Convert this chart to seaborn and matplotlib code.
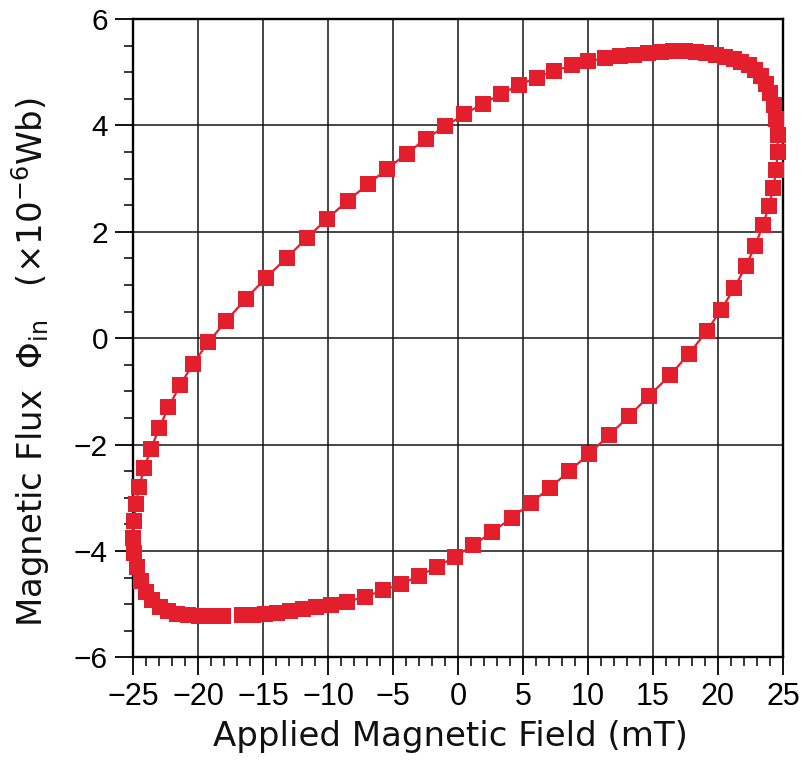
import matplotlib
matplotlib.use("Agg")
import matplotlib.pyplot as plt
from matplotlib.ticker import MultipleLocator
import numpy as np
import pandas as pd
import seaborn as sns

# Rising-field branch (lower half of the loop), mT and x1e-6 Wb
field_rising = [-16.6, -15.75, -14.85, -13.9, -12.95, -11.95, -10.9, -9.8, -8.56, -7.15,
                -5.75, -4.38, -3.0, -1.62, -0.23, 1.18, 2.65, 4.13, 5.6, 7.08,
                8.57, 10.1, 11.64, 13.18, 14.72, 16.3, 17.78, 19.13, 20.2, 21.25,
                22.13, 22.85, 23.44, 23.92, 24.25, 24.47, 24.58]
flux_rising = [-5.21, -5.20, -5.19, -5.16, -5.13, -5.10, -5.06, -5.01, -4.96, -4.86,
               -4.74, -4.62, -4.47, -4.30, -4.11, -3.89, -3.64, -3.38, -3.10, -2.81,
               -2.50, -2.17, -1.82, -1.46, -1.08, -0.70, -0.29, 0.13, 0.52, 0.94,
               1.35, 1.73, 2.12, 2.48, 2.82, 3.16, 3.50]

# Falling-field branch (upper half of the loop)
field_falling = [24.58, 24.48, 24.3, 24.03, 23.7, 23.3, 22.85, 22.35, 21.8, 21.2,
                 20.55, 19.85, 19.1, 18.3, 17.45, 16.55, 15.6, 14.6, 13.55, 12.45,
                 11.31, 10.02, 8.75, 7.38, 6.05, 4.72, 3.31, 1.95, 0.49, -1.0,
                 -2.46, -3.95, -5.45, -6.95, -8.5, -10.08, -11.64, -13.18, -14.75, -16.32,
                 -17.85, -19.22, -20.38, -21.38, -22.28, -22.98, -23.62, -24.13, -24.52, -24.78,
                 -24.93, -24.97, -24.9, -24.72, -24.42, -24.02, -23.52, -22.95, -22.3, -21.58,
                 -20.8, -19.95, -19.05, -18.1]
flux_falling = [3.82, 4.12, 4.38, 4.60, 4.78, 4.93, 5.04, 5.13, 5.20, 5.25,
                5.29, 5.33, 5.36, 5.38, 5.39, 5.39, 5.38, 5.36, 5.33, 5.30,
                5.26, 5.21, 5.13, 5.02, 4.90, 4.76, 4.59, 4.41, 4.21, 3.98,
                3.75, 3.47, 3.18, 2.89, 2.58, 2.24, 1.88, 1.51, 1.14, 0.74,
                0.32, -0.08, -0.48, -0.89, -1.30, -1.69, -2.08, -2.44, -2.79, -3.12,
                -3.44, -3.75, -4.04, -4.31, -4.56, -4.77, -4.93, -5.05, -5.13, -5.18,
                -5.21, -5.22, -5.22, -5.22]

x_ticks = [-25, -20, -15, -10, -5, 0, 5, 10, 15, 20, 25]
y_ticks = [-6, -4, -2, 0, 2, 4, 6]

loop = pd.DataFrame({
    "field": field_rising + field_falling,
    "flux": flux_rising + flux_falling,
})

sns.set_theme(style="ticks")
plt.rcParams["font.family"] = ["DejaVu Sans"]
plt.rcParams["mathtext.fontset"] = "dejavusans"

red = "#E31E2D"

fig = plt.figure(figsize=(8.05, 7.62), dpi=100)
fig.patch.set_facecolor("white")
ax = fig.add_axes([133 / 805, 1 - 657.3 / 762, 650 / 805, 638.3 / 762])
ax.set_facecolor("white")

sns.lineplot(data=loop, x="field", y="flux", sort=False, estimator=None,
             color=red, linewidth=1.6, marker="s", markersize=12,
             markeredgewidth=0, ax=ax, zorder=3, clip_on=False)

ax.set_xlim(-25, 25)
ax.set_ylim(-6, 6)

tick_font = ["Liberation Sans", "DejaVu Sans"]
ax.set_xticks(x_ticks, labels=[str(t).replace("-", "\u2212") for t in x_ticks],
              fontfamily=tick_font, fontsize=22)
ax.set_yticks(y_ticks, labels=[str(t).replace("-", "\u2212") for t in y_ticks],
              fontfamily=tick_font, fontsize=21.5)
ax.xaxis.set_minor_locator(MultipleLocator(1))
ax.yaxis.set_minor_locator(MultipleLocator(0.5))

ax.grid(which="major", color="#151515", linewidth=1.1)
ax.tick_params(which="major", direction="out", length=13, width=1.3,
               color="black", labelcolor="black", pad=5)
ax.tick_params(which="minor", direction="out", length=6.5, width=1.1, color="black")
ax.tick_params(top=False, right=False, which="both")

for side in ["left", "right", "top", "bottom"]:
    ax.spines[side].set_visible(True)
    ax.spines[side].set_linewidth(1.7)
    ax.spines[side].set_color("black")

ax.set_xlabel("Applied Magnetic Field (mT)", fontsize=24.5, color="#111111")
ax.set_ylabel(r"Magnetic Flux  $\Phi_{\mathrm{in}}$   (×10$^{-6}$Wb)",
              fontsize=24.5, color="#111111")
ax.xaxis.set_label_coords(0.489, -0.098)
ax.yaxis.set_label_coords(-0.125, 0.462)

fig.savefig("out.png", dpi=100, facecolor="white")
